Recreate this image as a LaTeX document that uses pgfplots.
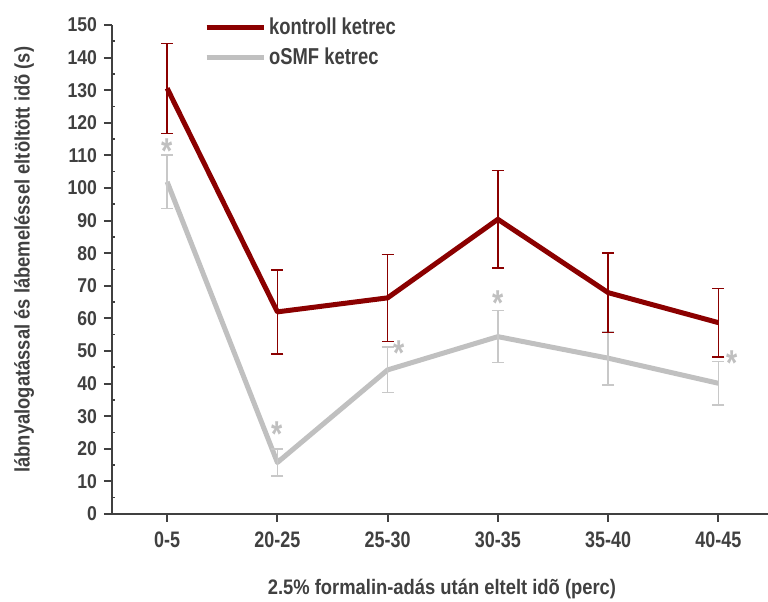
\documentclass[border=0pt]{standalone}
\usepackage{pgfplots}
\pgfplotsset{compat=1.18}
\usepackage{pgfplotstable}
\usepackage{fontspec}
\setmainfont{Liberation Sans}[FakeStretch=0.8]
\newfontfamily\ytickfont{Liberation Sans}[FakeStretch=0.88]
\newfontfamily\xtickfont{Liberation Sans}[FakeStretch=0.8]
\newfontfamily\labfont{Liberation Sans}[FakeStretch=0.875]
\definecolor{ctrl}{RGB}{139,0,0}
\definecolor{osmf}{RGB}{192,192,192}
\definecolor{osmfbar}{RGB}{200,200,200}
\definecolor{txt}{RGB}{64,64,64}
\pgfplotstableread{
x y e
0 130.6 13.8
1 62.0 12.9
2 66.3 13.3
3 90.4 15.0
4 67.9 12.2
5 58.7 10.5
}\ctrltab
\pgfplotstableread{
x y e
0 101.9 8.2
1 15.8 4.1
2 44.2 7.0
3 54.4 8.0
4 47.8 8.2
5 40.1 6.7
}\osmftab
\begin{document}
\begin{tikzpicture}
\begin{axis}[
 scale only axis, width=328pt, height=244.5pt,
 xmin=-0.5, xmax=5.45, ymin=0, ymax=150,
 clip=false,
 axis lines*=left,
 axis line style={txt, line width=1.2pt},
 xtick={0,...,5}, xticklabels={0-5,20-25,25-30,30-35,35-40,40-45},
 ytick={0,10,...,150},
 minor y tick num=1,
 tick align=outside,
 major tick length=4pt,
 minor tick length=1.5pt,
 tick style={txt, line width=1pt},
 minor y tick style={xshift=1.5pt, line width=0.8pt},
 /pgf/number format/assume math mode=true,
 yticklabel style={font=\ytickfont\bfseries\fontsize{10}{12}\selectfont, text=txt},
 xticklabel style={font=\xtickfont\bfseries\fontsize{11.2}{13}\selectfont, text=txt, yshift=-1.5pt},
 xlabel={2.5\% formalin-adás után eltelt idõ (perc)},
 ylabel={lábnyalogatással és lábemeléssel eltöltött idõ (s)},
 label style={font=\labfont\bfseries\fontsize{10.5}{12}\selectfont, text=txt},
 xlabel style={at={(axis description cs:0.503,-0.153)}, anchor=center},
 ylabel style={at={(axis description cs:-0.134,0.520)}, anchor=center},
 legend style={draw=none, fill=none, at={(axis description cs:0.14,1.0225)}, anchor=north west,
   font=\bfseries\fontsize{11.5}{13}\selectfont, text=txt, row sep=2.5pt, inner sep=0pt,
   nodes={inner sep=1.5pt}},
 legend cell align=left,
 reverse legend,
 legend image code/.code={\draw[#1] (0cm,0cm) -- (1.0cm,0cm);},
]
\addplot[osmf, line width=2.5pt, line join=round, no markers,
  error bars/.cd, y dir=both, y explicit,
  error bar style={osmfbar, line width=0.7pt},
  error mark options={osmfbar, line width=0.7pt, mark size=3pt, rotate=90}]
  table[x=x, y=y, y error=e] {\osmftab};
\addlegendentry{oSMF ketrec}
\addplot[ctrl, line width=2.5pt, line join=round, no markers,
  error bars/.cd, y dir=both, y explicit,
  error bar style={ctrl, line width=0.7pt},
  error mark options={ctrl, line width=0.7pt, mark size=3pt, rotate=90}]
  table[x=x, y=y, y error=e] {\ctrltab};
\addlegendentry{kontroll ketrec}
\begin{scope}[every node/.style={text=osmf, font=\bfseries\fontsize{18}{18}\selectfont, inner sep=0pt}]
\node at (axis cs:0,111.2) {*};
\node at (axis cs:1,24.4) {*};
\node at (axis cs:2.1,49.2) {*};
\node at (axis cs:3,64.6) {*};
\node at (axis cs:5.12,46.2) {*};
\end{scope}
\end{axis}
\pgfresetboundingbox
\path ([shift={(-56pt,-44pt)}]current axis.south west) rectangle ([shift={(0pt,12.5pt)}]current axis.north east);
\end{tikzpicture}
\end{document}
